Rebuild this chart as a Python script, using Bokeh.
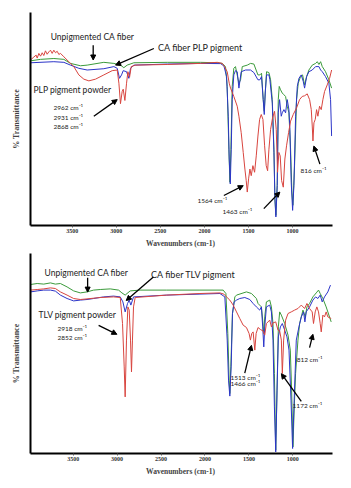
from bokeh.plotting import figure
from bokeh.models import Range1d, FixedTicker, Label, Arrow, NormalHead
from bokeh.layouts import column
from bokeh.embed import file_html
from bokeh.resources import INLINE

wavenumber_ticks = [3500, 3000, 2500, 2000, 1500, 1000]

# ---------------- Panel A : PLP pigment ----------------
plp_unpig_wn = [3975, 3861, 3710, 3596, 3521, 3407, 3331, 3142, 3028, 2953, 2915, 2877, 2801, 2422, 2044,
                1854, 1797, 1760, 1741, 1722, 1710, 1699, 1684, 1666, 1647, 1608, 1589, 1570, 1513, 1476,
                1438, 1392, 1370, 1351, 1332, 1320, 1309, 1294, 1267, 1248, 1229, 1210, 1199, 1188, 1173,
                1161, 1150, 1135, 1116, 1097, 1078, 1059, 1040, 1021, 1006, 995, 976, 953, 934, 908,
                885, 862, 839, 813, 775, 737, 718, 699, 680, 661, 624, 586, 555]
plp_unpig_t = [77.3, 78.0, 78.4, 78.0, 76.1, 75.0, 75.3, 76.6, 76.1, 75.3, 74.1, 75.3, 76.4, 76.6, 76.6,
               76.4, 76.1, 74.6, 65.3, 35.8, 20.3, 35.8, 65.3, 73.8, 74.6, 66.8, 68.4, 74.6, 75.3, 76.1,
               75.8, 70.7, 70.7, 71.5, 59.1, 53.6, 62.2, 72.2, 71.8, 68.4, 59.1, 35.8, 12.6, 4.8, 18.8,
               59.1, 65.3, 63.7, 62.2, 61.4, 60.6, 56.0, 52.9, 35.8, 15.7, 9.5, 28.1, 59.1, 66.8, 69.9,
               70.7, 66.0, 69.9, 73.0, 75.3, 76.1, 76.9, 75.6, 76.9, 74.6, 72.2, 68.4, 64.5]

plp_fiber_wn = [3975, 3710, 3596, 3521, 3426, 3331, 3142, 3028, 2990, 2964, 2941, 2922, 2884, 2858, 2839,
                2801, 2422, 2044, 1816, 1778, 1748, 1729, 1718, 1706, 1695, 1684, 1666, 1647, 1627, 1608,
                1582, 1532, 1476, 1438, 1392, 1370, 1351, 1332, 1320, 1309, 1294, 1267, 1256, 1229, 1210,
                1199, 1188, 1173, 1161, 1146, 1127, 1116, 1097, 1078, 1059, 1040, 1029, 1014, 998, 983,
                964, 945, 926, 900, 877, 862, 839, 813, 775, 737, 699, 680, 661, 624, 586, 567, 555]
plp_fiber_t = [76.4, 76.9, 76.6, 75.3, 73.8, 73.0, 73.6, 74.6, 73.8, 69.1, 70.7, 72.7, 72.2, 69.1, 73.8,
               75.3, 75.8, 76.1, 76.0, 74.9, 69.9, 51.3, 31.2, 19.5, 35.8, 59.1, 70.7, 72.7, 72.2, 64.5,
               72.2, 73.0, 73.0, 71.8, 68.4, 68.4, 69.9, 59.1, 52.1, 62.2, 70.7, 70.7, 68.4, 57.5, 34.3,
               12.6, 4.0, 18.8, 52.9, 59.1, 51.3, 52.9, 54.4, 52.9, 59.1, 54.4, 45.1, 20.3, 7.1, 18.8,
               51.3, 65.3, 69.1, 70.7, 67.6, 64.5, 69.9, 72.2, 73.0, 74.6, 74.6, 73.0, 72.2, 69.9, 66.8, 59.1, 42.0]

plp_powder_wn = [3975, 3937, 3911, 3899, 3880, 3861, 3842, 3824, 3805, 3786, 3767, 3748, 3729, 3710, 3691,
                 3672, 3653, 3634, 3596, 3540, 3483, 3426, 3369, 3312, 3237, 3142, 3047, 2990, 2971, 2953,
                 2934, 2922, 2903, 2884, 2869, 2850, 2831, 2782, 2422, 2044, 1854, 1797, 1771, 1741, 1718,
                 1703, 1666, 1627, 1608, 1582, 1559, 1540, 1525, 1513, 1498, 1483, 1468, 1449, 1430, 1411,
                 1392, 1373, 1354, 1335, 1316, 1298, 1282, 1267, 1248, 1226, 1203, 1184, 1169, 1154, 1139,
                 1123, 1104, 1086, 1067, 1044, 1021, 991, 953, 919, 889, 862, 832, 805, 786, 775,
                 767, 756, 741, 726, 711, 692, 673, 654, 635, 605, 578, 555]
plp_powder_t = [77.7, 79.1, 80.0, 78.6, 80.8, 79.5, 81.1, 79.8, 82.0, 80.4, 81.5, 82.3, 80.8, 82.3, 81.1,
                81.8, 80.3, 80.8, 79.2, 76.9, 74.6, 70.7, 68.7, 67.9, 68.7, 70.7, 72.7, 73.0, 66.8, 57.2,
                62.9, 64.0, 58.7, 66.8, 72.2, 69.6, 74.6, 75.3, 75.6, 76.1, 76.6, 76.1, 74.6, 72.2, 66.8,
                64.5, 60.6, 56.0, 51.3, 43.6, 34.3, 26.5, 21.1, 15.7, 21.9, 26.5, 23.4, 28.1, 25.0, 32.7,
                42.0, 49.8, 52.1, 49.8, 37.4, 28.1, 25.7, 35.8, 45.1, 50.5, 53.6, 45.1, 25.0, 34.3, 32.7,
                21.1, 18.0, 31.2, 37.4, 43.6, 49.0, 52.1, 55.2, 59.1, 60.6, 60.9, 61.8, 59.1, 54.4, 46.7,
                39.7, 48.2, 49.8, 54.4, 51.3, 56.0, 54.4, 59.1, 62.9, 66.0, 69.1, 73.0]

# ---------------- Panel B : TLV pigment ----------------
tlv_unpig_wn = [3985, 3909, 3834, 3758, 3702, 3645, 3569, 3494, 3418, 3342, 3267, 3191, 3078, 2983, 2945,
                2908, 2851, 2738, 2435, 2057, 1793, 1762, 1740, 1725, 1717, 1706, 1687, 1660, 1641, 1528,
                1471, 1415, 1396, 1358, 1343, 1331, 1320, 1301, 1263, 1244, 1226, 1210, 1195, 1180, 1165,
                1150, 1131, 1093, 1055, 1029, 1014, 999, 984, 969, 942, 923, 885, 859, 840, 810,
                772, 734, 708, 689, 659, 621, 564]
tlv_unpig_t = [84.5, 85.0, 84.7, 85.3, 84.7, 85.0, 83.3, 81.3, 80.3, 80.8, 81.7, 82.0, 82.3, 81.7, 80.3,
               79.2, 81.3, 81.7, 81.7, 81.7, 81.7, 80.0, 60.0, 36.7, 30.0, 43.3, 70.0, 78.3, 79.2, 80.8,
               80.0, 77.5, 75.0, 73.3, 66.7, 60.0, 68.3, 75.8, 76.7, 73.3, 65.0, 40.0, 1.7, 31.7, 63.3,
               70.8, 69.2, 65.0, 59.2, 51.7, 31.7, 3.3, 23.3, 40.0, 56.7, 65.0, 71.7, 68.3, 73.3, 75.0,
               78.3, 80.3, 81.7, 80.0, 77.5, 73.3, 65.8]

tlv_fiber_wn = [3985, 3909, 3834, 3758, 3702, 3645, 3569, 3494, 3418, 3342, 3267, 3153, 3040, 2964, 2934,
                2908, 2881, 2862, 2843, 2813, 2435, 2057, 1830, 1774, 1747, 1732, 1717, 1702, 1687, 1668,
                1641, 1604, 1547, 1490, 1452, 1415, 1377, 1358, 1343, 1331, 1320, 1301, 1263, 1244, 1226,
                1210, 1195, 1180, 1165, 1142, 1120, 1093, 1067, 1044, 1021, 1003, 984, 961, 931, 904,
                878, 863, 848, 810, 772, 742, 715, 689, 666, 640, 602, 572]
tlv_fiber_t = [80.8, 81.3, 81.7, 81.7, 81.2, 79.2, 77.5, 76.3, 76.7, 77.0, 77.5, 78.3, 78.7, 78.3, 75.8,
               70.8, 75.0, 76.7, 74.2, 78.3, 79.2, 79.7, 80.0, 78.3, 56.7, 36.7, 28.7, 43.3, 70.0, 75.8,
               76.7, 77.5, 78.0, 77.0, 75.0, 73.3, 71.7, 73.3, 63.3, 53.3, 63.3, 73.3, 74.2, 70.8, 56.7,
               23.3, 0.8, 31.7, 58.3, 63.3, 65.0, 61.7, 58.3, 51.7, 26.7, 2.5, 28.3, 56.7, 63.3, 68.3,
               70.8, 65.8, 70.8, 73.3, 76.7, 78.3, 77.5, 79.2, 75.8, 78.3, 80.8, 84.2]

tlv_powder_wn = [3985, 3909, 3834, 3758, 3702, 3645, 3569, 3494, 3418, 3342, 3191, 3040, 2964, 2938, 2919,
                 2908, 2893, 2877, 2862, 2847, 2836, 2825, 2813, 2794, 2435, 2057, 1830, 1785, 1755, 1717,
                 1679, 1641, 1604, 1566, 1528, 1498, 1483, 1468, 1452, 1433, 1418, 1396, 1369, 1339, 1320,
                 1301, 1263, 1244, 1226, 1195, 1169, 1150, 1131, 1120, 1105, 1082, 1055, 1018, 980, 942,
                 904, 866, 840, 810, 780, 765, 746, 727, 708, 689, 677, 659, 640, 621, 602, 564]
tlv_powder_t = [81.7, 82.0, 82.3, 82.8, 82.5, 80.8, 79.2, 77.5, 77.0, 77.3, 78.0, 78.3, 78.0, 65.0, 43.3,
                28.3, 56.7, 73.3, 71.7, 56.7, 40.8, 56.7, 73.3, 78.0, 79.2, 80.0, 80.3, 79.7, 78.3, 76.7,
                74.2, 70.8, 67.5, 64.2, 63.0, 60.0, 56.7, 60.0, 60.8, 51.7, 60.0, 63.0, 62.0, 61.3, 59.2,
                65.0, 66.7, 63.3, 65.3, 65.8, 61.7, 61.3, 56.7, 40.0, 56.7, 66.7, 70.0, 70.8, 71.7, 72.5,
                74.2, 72.5, 75.0, 72.5, 70.8, 65.0, 70.8, 73.3, 70.8, 65.0, 60.8, 69.2, 68.3, 70.8, 68.3, 67.5]

GREEN = "#3b9a3b"
BLUE = "#2c35c8"
RED = "#d8453f"
LABEL_FONT = "Lato"
AXIS_FONT = "Liberation Serif"


def make_panel(height, x_start, x_end, border_top, border_bottom, border_right, series):
    p = figure(width=351, height=height, output_backend="svg", toolbar_location=None,
               x_range=Range1d(x_start, x_end), y_range=Range1d(0, 100),
               min_border_left=30, min_border_right=border_right,
               min_border_top=border_top, min_border_bottom=border_bottom)
    p.outline_line_color = None
    p.xgrid.visible = False
    p.ygrid.visible = False
    p.background_fill_color = "white"
    p.border_fill_color = "white"
    for wn, t, color in series:
        p.line(wn, t, line_color=color, line_width=1)
    xa = p.xaxis[0]
    xa.ticker = FixedTicker(ticks=wavenumber_ticks)
    xa.minor_tick_line_color = None
    xa.major_tick_out = 2
    xa.major_tick_in = 0
    xa.major_tick_line_color = "#555555"
    xa.axis_line_width = 2
    xa.axis_line_color = "black"
    xa.major_label_standoff = 1
    xa.major_label_text_font = AXIS_FONT
    xa.major_label_text_font_style = "bold"
    xa.major_label_text_font_size = "6px"
    xa.major_label_text_color = "#333333"
    xa.axis_label = "Wavenumbers  (cm-1)"
    xa.axis_label_text_font = AXIS_FONT
    xa.axis_label_text_font_style = "bold"
    xa.axis_label_text_font_size = "7.5px"
    xa.axis_label_standoff = 3
    ya = p.yaxis[0]
    ya.ticker = FixedTicker(ticks=[])
    ya.minor_tick_line_color = None
    ya.major_tick_line_color = None
    ya.major_label_text_font_size = "0px"
    ya.axis_line_width = 2
    ya.axis_line_color = "black"
    ya.axis_label = "% Transmittance"
    ya.axis_label_text_font = AXIS_FONT
    ya.axis_label_text_font_style = "bold"
    ya.axis_label_text_font_size = "8px"
    ya.axis_label_standoff = 10
    return p


def add_text(p, x, y, text, size="8.5px", align="left"):
    p.add_layout(Label(x=x, y=y, text=text, text_font=LABEL_FONT, text_font_size=size,
                       text_align=align, text_baseline="middle", text_color="#222222"))


def add_arrow(p, x0, y0, x1, y1):
    p.add_layout(Arrow(x_start=x0, y_start=y0, x_end=x1, y_end=y1, line_width=1.3,
                       line_color="black",
                       end=NormalHead(size=5, fill_color="black", line_color="black")))


top = make_panel(250, 3975, 545, 12, 23, 19,
                 [(plp_unpig_wn, plp_unpig_t, GREEN), (plp_fiber_wn, plp_fiber_t, BLUE),
                  (plp_powder_wn, plp_powder_t, RED)])
add_text(top, 3271, 88.4, "Unpigmented CA fiber", align="center")
add_arrow(top, 3263, 84.6, 3263, 77.7)
add_text(top, 2044, 83.7, "CA fiber PLP pigment", size="9px", align="center")
add_arrow(top, 2574, 83.1, 3009, 75.3)
add_text(top, 3941, 63.7, "PLP pigment powder")
add_text(top, 3714, 55.3, "2962 cm⁻¹", size="6.5px")
add_text(top, 3714, 50.7, "2931 cm⁻¹", size="6.5px")
add_text(top, 3714, 46.5, "2868 cm⁻¹", size="6.5px")
add_arrow(top, 3256, 51.3, 2990, 59.1)
add_text(top, 2078, 11.8, "1564 cm⁻¹", size="6.5px")
add_arrow(top, 1779, 14.1, 1559, 18.7)
add_text(top, 1794, 6.4, "1463 cm⁻¹", size="6.5px")
add_arrow(top, 1325, 7.9, 1143, 15.7)
add_text(top, 908, 25.7, "816 cm⁻¹", size="6.5px")
add_arrow(top, 688, 28.8, 757, 37.3)

bottom = make_panel(238, 3985, 549, 3, 35, 18,
                    [(tlv_unpig_wn, tlv_unpig_t, GREEN), (tlv_fiber_wn, tlv_fiber_t, BLUE),
                     (tlv_powder_wn, tlv_powder_t, RED)])
add_text(bottom, 3350, 90.4, "Unpigmented CA fiber", align="center")
add_arrow(bottom, 3335, 87.9, 3335, 80.7)
add_text(bottom, 2131, 89.4, "CA fiber TLV pigment", size="9px", align="center")
add_arrow(bottom, 2587, 88.2, 2896, 76.5)
add_text(bottom, 3894, 69.1, "TLV pigment powder")
add_text(bottom, 3679, 62.4, "2918 cm⁻¹", size="6.5px")
add_text(bottom, 3679, 57.9, "2852 cm⁻¹", size="6.5px")
add_arrow(bottom, 3210, 64.1, 3002, 59.6)
add_text(bottom, 1709, 38.2, "1513 cm⁻¹", size="6.5px")
add_text(bottom, 1709, 35.0, "1466 cm⁻¹", size="6.5px")
add_arrow(bottom, 1547, 40.2, 1471, 54.1)
add_text(bottom, 1003, 23.8, "1172 cm⁻¹", size="6.5px")
add_arrow(bottom, 904, 26.1, 1131, 39.9)
add_text(bottom, 957, 46.9, "812 cm⁻¹", size="6.5px")
add_arrow(bottom, 810, 52.9, 772, 59.6)

layout = column(top, bottom, spacing=0)
open("out.html", "w").write(file_html(layout, INLINE))
